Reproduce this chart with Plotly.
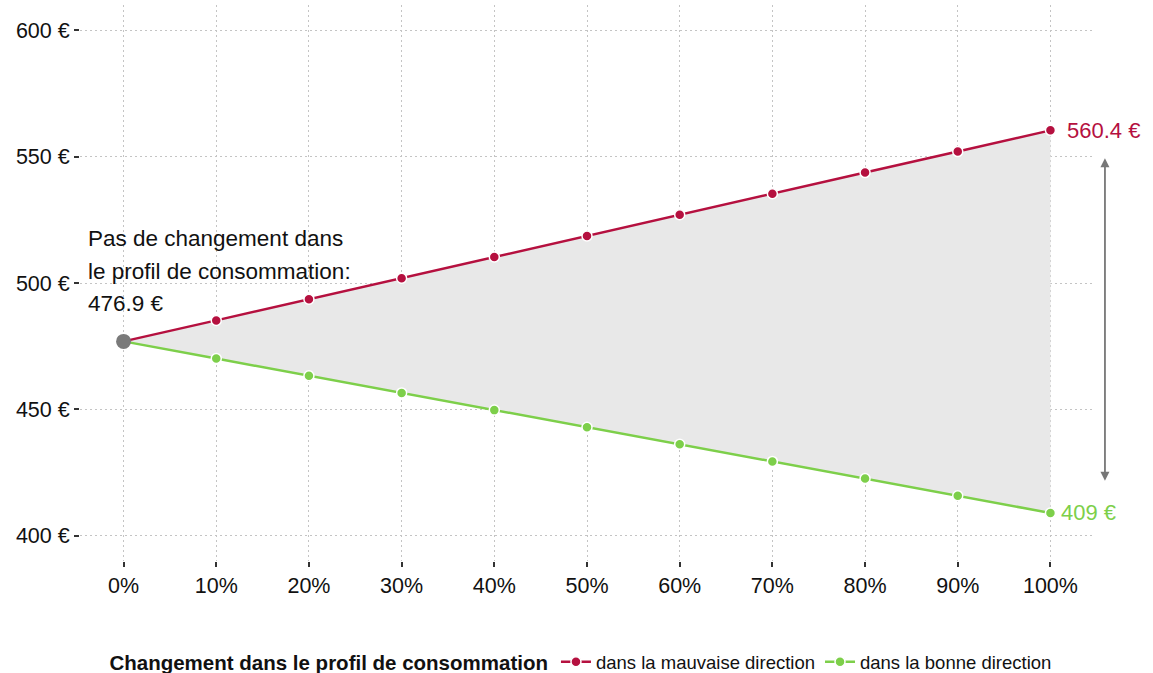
import plotly.graph_objects as go

shares = [0, 10, 20, 30, 40, 50, 60, 70, 80, 90, 100]
share_labels = ["0%", "10%", "20%", "30%", "40%", "50%", "60%", "70%", "80%", "90%", "100%"]
worse = [476.9, 485.2, 493.6, 501.9, 510.3, 518.6, 527.0, 535.3, 543.7, 552.0, 560.4]
better = [476.9, 470.1, 463.3, 456.5, 449.7, 442.9, 436.2, 429.4, 422.6, 415.8, 409.0]
baseline = 476.9
y_ticks = [400, 450, 500, 550, 600]
y_labels = ["400 €", "450 €", "500 €", "550 €", "600 €"]

RED = "#B5103F"
GREEN = "#7DCF4A"
GREY = "#7A7A7A"
FONT = "Liberation Sans"
TXT = "#111111"

fig = go.Figure()

# shaded area between the two lines
fig.add_trace(go.Scatter(
    x=shares + shares[::-1], y=worse + better[::-1],
    fill="toself", fillcolor="#E8E8E8", line=dict(width=0),
    mode="lines", showlegend=False, hoverinfo="skip"))

fig.add_trace(go.Scatter(x=shares[:2], y=worse[:2], mode="lines",
                         line=dict(color=RED, width=2.5), showlegend=False))
fig.add_trace(go.Scatter(x=shares[:2], y=better[:2], mode="lines",
                         line=dict(color=GREEN, width=2.5), showlegend=False))
fig.add_trace(go.Scatter(
    x=shares[1:], y=worse[1:], mode="lines+markers",
    name="dans la mauvaise direction",
    line=dict(color=RED, width=2.5),
    marker=dict(color=RED, size=10, line=dict(color="white", width=1.5))))
fig.add_trace(go.Scatter(
    x=shares[1:], y=better[1:], mode="lines+markers",
    name="dans la bonne direction",
    line=dict(color=GREEN, width=2.5),
    marker=dict(color=GREEN, size=10, line=dict(color="white", width=1.5))))
fig.add_trace(go.Scatter(x=[shares[0]], y=[baseline], mode="markers",
                         marker=dict(color=GREY, size=15), showlegend=False))

# end labels
fig.add_annotation(x=shares[-1], y=worse[-1], text=f"{worse[-1]} €", showarrow=False,
                   xanchor="left", xshift=15, font=dict(family=FONT, size=22, color=RED))
fig.add_annotation(x=shares[-1], y=better[-1], text=f"{better[-1]:g} €", showarrow=False,
                   xanchor="left", xshift=9, font=dict(family=FONT, size=22, color=GREEN))

# baseline note
lines = ["Pas de changement dans", "le profil de consommation:", f"{baseline} €"]
for i, t in enumerate(lines):
    fig.add_annotation(xref="paper", x=0, y=517.6 - i * 12.85, text=t, showarrow=False,
                       xanchor="left", yanchor="middle", xshift=6,
                       font=dict(family=FONT, size=22.5, color=TXT))

# double arrow to the right of the plot
fig.add_annotation(x=1.0108, y=549.4, xref="paper", yref="y", ax=0, ay=324,
                   text="", showarrow=True, arrowhead=2, startarrowhead=2, arrowside="end+start",
                   arrowsize=1, startarrowsize=1, arrowwidth=1.8, arrowcolor="#777777")

grid = dict(showgrid=True, gridcolor="#C4C4C4", griddash="1.5px,3.5px", gridwidth=1,
            ticks="outside", ticklen=5, tickwidth=2, tickcolor="#333333",
            zeroline=False, showline=False, automargin=False)

fig.update_xaxes(range=[-4.7, 104.7], tickvals=shares, ticktext=share_labels, tickangle=0,
                 tickfont=dict(family=FONT, size=21.5, color=TXT), **grid)
fig.update_yaxes(range=[390, 610], tickvals=y_ticks, ticktext=y_labels,
                 tickfont=dict(family=FONT, size=21.5, color=TXT), **grid)

fig.update_layout(
    width=1153, height=673,
    margin=dict(l=80, r=59, t=5, b=112, autoexpand=False),
    plot_bgcolor="white", paper_bgcolor="white",
    font=dict(family=FONT, size=19, color=TXT),
    legend=dict(orientation="h", x=0.495, xanchor="center",
                y=-0.182, yanchor="middle",
                title=dict(text="<b>Changement dans le profil de consommation</b>",
                           font=dict(family=FONT, size=20.5, color=TXT)),
                font=dict(family=FONT, size=18.5, color=TXT), itemwidth=30),
)

fig.write_html("out.html")
